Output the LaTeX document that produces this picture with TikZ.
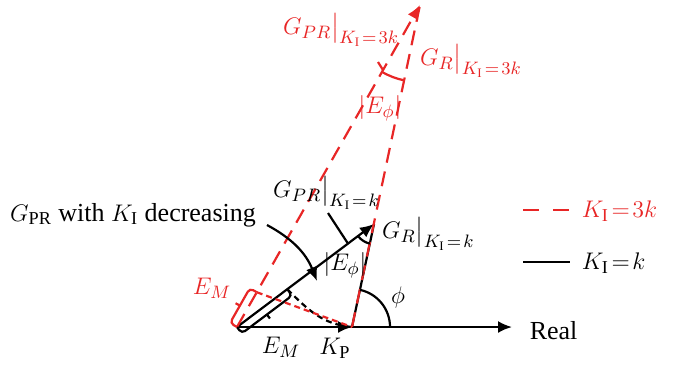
\documentclass[tikz,border=0pt]{standalone}
\usepackage{amsmath}
\usepackage{fontspec}
\setmainfont{Liberation Serif}
\usetikzlibrary{arrows.meta, decorations.pathreplacing, positioning, calc}
\definecolor{figred}{RGB}{232,38,38}
\newcommand{\kiis}[1]{K_{\mathrm{I}}\mskip2mu=\mskip2mu #1}

\begin{document}
\begin{tikzpicture}[x=0.5pt, y=0.5pt, line width=1.1pt, font=\fontsize{13}{16}\selectfont,
    >={Latex[length=7pt,width=6pt]},
    rdash/.style={figred, dash pattern=on 7.5pt off 4.5pt},
    sdash/.style={dash pattern=on 3pt off 2pt}]
    \useasboundingbox (0,0) rectangle (678,-366);
    % main points
    \coordinate (O) at (237,-327);
    \coordinate (KP) at (352,-327);
    \coordinate (A) at (374,-224);
    \coordinate (T) at (420,-5);
    \coordinate (R) at (512,-327);
    \coordinate (P1) at ($(O)!0.367!(A)$);
    \coordinate (P2) at ($(O)!0.108!(T)$);

    % real axis
    \draw[->] (O) -- (KP);
    \draw[->] (KP) -- (R);
    \node[anchor=west] (real) at (522,-331) {Real};

    % K_I = k
    \draw (KP) -- (A);
    \draw[->] (O) -- (A);
    % K_I = 3k
    \draw[rdash, ->] (O) -- (T);
    \draw[rdash] (KP) -- (T);

    % angles
    \draw (A) ++(216.9:20) arc[start angle=216.9, end angle=257.9, radius=20];
    \draw[figred] (T) ++(240.4:77) arc[start angle=240.4, end angle=258.1, radius=77];
    \draw (KP) ++(0:38) arc[start angle=0, end angle=77.9, radius=38];
    \node (phi) at (398,-297) {$\phi$};

    % E_M margins
    \draw[rounded corners=2pt] (O) -- ($(O)+(4.8,-6.4)$) -- ($(P1)+(4.8,-6.4)$) -- (P1);
    \draw ($(O)!0.5!(P1)+(4.8,-6.4)$) -- ($(O)!0.5!(P1)+(7.8,-10.4)$);
    \draw[figred, rounded corners=2pt] (O) -- ($(O)+(-7,4)$) -- ($(P2)+(-7,4)$) -- (P2);
    \draw[figred] ($(O)!0.5!(P2)+(-7,4)$) -- ($(O)!0.5!(P2)+(-11.3,6.4)$);
    \draw[sdash] (P1) to[out=-45, in=175] (KP);
    \draw[figred, sdash] (P2) -- (KP);
    \node (emk) at (281,-347) {$E_M$};
    \node[figred] (em3k) at (212,-288) {$E_M$};
    \node (kp) at (335,-348) {$K_{\mathrm{P}}$};

    % K_I decreasing
    \node (decr) at (133,-215) {$G_{\mathrm{PR}}$ with $K_{\mathrm{I}}$ decreasing};
    \coordinate (D0) at (267,-225);
    \coordinate (D1) at (317,-281);
    \draw[->] (D0) to[bend left=20] (D1);

    % labels of the vectors
    \node[anchor=west, inner sep=0pt] (gprk) at (272,-193) {$G_{PR}\big|_{\kiis{k}}$};
    \node[anchor=west, inner sep=0pt] (grk) at (381,-234) {$G_{R}\big|_{\kiis{k}}$};
    \node (ephik) at (345,-265) {$|E_\phi|$};
    \coordinate (Lk) at (328,-213);
    \draw (Lk) -- ($(O)!0.81!(A)$);
    \node[figred, anchor=west, inner sep=0pt] (gpr3k) at (282,-30) {$G_{PR}\big|_{\kiis{3k}}$};
    \node[figred, anchor=west, inner sep=0pt] (gr3k) at (419,-61) {$G_{R}\big|_{\kiis{3k}}$};
    \node[figred] (ephi3k) at (380,-108) {$|E_\phi|$};
    \coordinate (L3) at (378,-62);
    \draw[figred] (L3) -- ++(5,-8);

    % legend
    \coordinate (LG3a) at (523,-210);
    \coordinate (LG3b) at (570,-210);
    \draw[rdash, dash pattern=on 8pt off 7pt] (LG3a) -- (LG3b);
    \node[figred, anchor=west] (leg3k) at (574,-211) {$K_{\mathrm{I}}\!=\!3k$};
    \coordinate (LGa) at (523,-262);
    \coordinate (LGb) at (570,-262);
    \draw (LGa) -- (LGb);
    \node[anchor=west] (legk) at (574,-263) {$K_{\mathrm{I}}\!=\!k$};
\end{tikzpicture}
\end{document}
